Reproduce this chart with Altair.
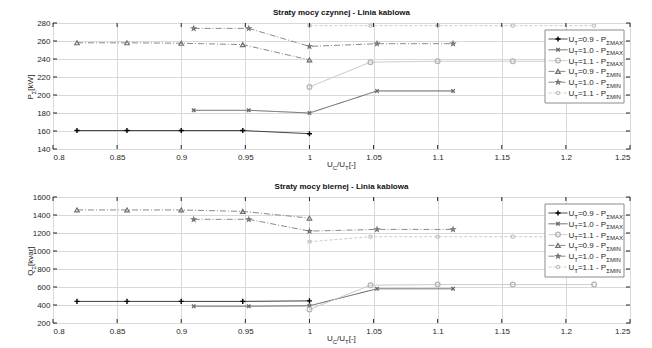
import math
import altair as alt
import pandas as pd

# ---------------- data ----------------
SERIES = ["0.9 MAX", "1.0 MAX", "1.1 MAX", "0.9 MIN", "1.0 MIN", "1.1 MIN"]
LEG_UT = ["0.9", "1.0", "1.1", "0.9", "1.0", "1.1"]
LEG_SUB = ["ΣMAX", "ΣMAX", "ΣMAX", "ΣMIN", "ΣMIN", "ΣMIN"]

X_09 = [0.8187, 0.8577, 0.9, 0.948, 1.0]
X_10 = [0.9097, 0.9527, 1.0, 1.0527, 1.112]
X_11 = [1.0, 1.0476, 1.1, 1.1586, 1.222]

P_MAX_09 = [160.5, 160.5, 160.5, 160.5, 157]
P_MAX_10 = [183, 183, 180, 204.5, 204.5]
P_MAX_11 = [209, 236.5, 237.5, 237.5, 237.5]
P_MIN_09 = [258, 258, 257.5, 256, 239]
P_MIN_10 = [274, 274, 254, 257, 257]
P_MIN_11 = [277, 277, 277, 277, 277]

Q_MAX_09 = [440, 440, 440, 440, 446]
Q_MAX_10 = [386, 386, 391, 580, 580]
Q_MAX_11 = [350, 620, 627, 627, 627]
Q_MIN_09 = [1456, 1456, 1456, 1440, 1366]
Q_MIN_10 = [1352, 1352, 1221, 1240, 1240]
Q_MIN_11 = [1103, 1159, 1159, 1159, 1159]

X_TICKS = [0.8, 0.85, 0.9, 0.95, 1.0, 1.05, 1.1, 1.15, 1.2, 1.25]
P_TICKS = [140, 160, 180, 200, 220, 240, 260, 280]
Q_TICKS = [200, 400, 600, 800, 1000, 1200, 1400, 1600]

# ---------------- styles ----------------
W, H = 577, 126
FONT = "Liberation Sans"
TXT = "#262626"
LINE_COLORS = ["#3a3a3a", "#5c5c5c", "#c4c4c4", "#8a8a8a", "#8a8a8a", "#cccccc"]
MARK_COLORS = ["#000000", "#6a6a6a", "#b4b4b4", "#707070", "#707070", "#bdbdbd"]
DASHES = [[1, 0], [1, 0], [1, 0], [6, 2, 1, 2], [6, 2, 1, 2], [3, 2]]
SIZES = [26, 18, 22, 24, 30, 24]
SWIDTH = [1.4, 1, 1, 1, 1, 1]

PLUS = "M-1,0L1,0M0,-1L0,1"
ASTER = "M-1,0L1,0M0,-1L0,1M-0.7,-0.7L0.7,0.7M-0.7,0.7L0.7,-0.7"
XS = "M-0.7,-0.7L0.7,0.7M-0.7,0.7L0.7,-0.7"


def star(n, r_in):
    pts = []
    for k in range(2 * n):
        r = 1 if k % 2 == 0 else r_in
        a = math.radians(-90 + k * 180 / n)
        pts.append(f"{r*math.cos(a):.3f},{r*math.sin(a):.3f}")
    return "M" + "L".join(pts) + "Z"


STAR5 = star(5, 0.4)
STAR6 = star(6, 0.577)
SHAPES_TOP = [PLUS, XS, "circle", "triangle-up", STAR5, STAR6]
SHAPES_BOT = [ASTER, XS, "circle", "triangle-up", STAR5, STAR6]

CW = {'U': .722, 'T': .611, 'C': .722, 'P': .667, 'Q': .778, '=': .584, '.': .278,
      ' ': .278, '-': .333, '/': .278, '[': .278, ']': .278, 'k': .5, 'W': .944,
      'v': .5, 'a': .556, 'r': .333, 'Σ': .6, 'M': .833, 'A': .667, 'X': .667,
      'I': .278, 'N': .722}
FS_MAIN, FS_SUB = 8, 6


def tw(s, fs):
    return sum(CW.get(c, .556) for c in s) * fs


def pieces_h(parts, x0, y0):
    rows = []
    x = x0
    for t, sub in parts:
        fs = FS_SUB if sub else FS_MAIN
        rows.append({"t": t, "px": x, "py": y0 + (2.5 if sub else 0), "sub": sub})
        x += tw(t, fs)
    return rows


def total_w(parts):
    return sum(tw(t, FS_SUB if s else FS_MAIN) for t, s in parts)


def text_layers(rows, angle=0):
    df = pd.DataFrame(rows)
    out = []
    for sub in (False, True):
        d = df[df["sub"] == sub]
        if len(d) == 0:
            continue
        out.append(alt.Chart(d).mark_text(
            align="left", baseline="alphabetic", angle=angle, font=FONT,
            fontSize=FS_SUB if sub else FS_MAIN, color=TXT).encode(
            x=alt.X("px:Q", scale=None), y=alt.Y("py:Q", scale=None), text="t:N"))
    return out


def panel(title, ylists, ydom, yticks, shapes, ytitle_parts):
    xs = [X_09, X_10, X_11, X_09, X_10, X_11]
    rows = []
    for s, xl, yl in zip(SERIES, xs, ylists):
        for a, b in zip(xl, yl):
            rows.append({"series": s, "x": a, "y": b})
    df = pd.DataFrame(rows)

    xsc = alt.Scale(domain=[0.8, 1.25], nice=False, zero=False)
    ysc = alt.Scale(domain=ydom, nice=False, zero=False)
    col = alt.Scale(domain=SERIES, range=LINE_COLORS)
    mcol = alt.Scale(domain=SERIES, range=MARK_COLORS)
    dsh = alt.Scale(domain=SERIES, range=DASHES)
    shp = alt.Scale(domain=SERIES, range=shapes)
    siz = alt.Scale(domain=SERIES, range=SIZES)
    swd = alt.Scale(domain=SERIES, range=SWIDTH)

    xax = alt.Axis(values=X_TICKS, grid=True, gridColor="#d9d9d9", ticks=False, tickSize=0,
                   domain=False, labelPadding=4, title=None, format="~g",
                   labelOverlap=False)
    yax = alt.Axis(values=yticks, grid=True, gridColor="#d9d9d9", ticks=False, tickSize=0,
                   domain=False, labelPadding=3, title=None, format="d",
                   labelOverlap=False)

    lines = alt.Chart(df).mark_line(strokeWidth=1).encode(
        x=alt.X("x:Q", scale=xsc, axis=xax),
        y=alt.Y("y:Q", scale=ysc, axis=yax),
        color=alt.Color("series:N", scale=col, legend=None),
        strokeDash=alt.StrokeDash("series:N", scale=dsh, legend=None),
        detail="series:N")
    pts = alt.Chart(df).mark_point(filled=False, opacity=1).encode(
        x=alt.X("x:Q", axis=xax), y=alt.Y("y:Q", axis=yax),
        shape=alt.Shape("series:N", scale=shp, legend=None),
        stroke=alt.Stroke("series:N", scale=mcol, legend=None),
        size=alt.Size("series:N", scale=siz, legend=None),
        strokeWidth=alt.StrokeWidth("series:N", scale=swd, legend=None))

    # inward ticks (box style)
    xt = pd.DataFrame({"v": X_TICKS})
    yt = pd.DataFrame({"v": yticks})
    tk = []
    tk.append(alt.Chart(xt).mark_rule(color=TXT).encode(
        x=alt.X("v:Q", axis=xax), y=alt.value(H), y2=alt.value(H - 4)))
    tk.append(alt.Chart(xt).mark_rule(color=TXT).encode(
        x=alt.X("v:Q", axis=xax), y=alt.value(0), y2=alt.value(4)))
    tk.append(alt.Chart(yt).mark_rule(color=TXT).encode(
        y=alt.Y("v:Q", axis=yax), x=alt.value(0), x2=alt.value(4)))
    tk.append(alt.Chart(yt).mark_rule(color=TXT).encode(
        y=alt.Y("v:Q", axis=yax), x=alt.value(W), x2=alt.value(W - 4)))

    # legend
    lx0, lx1, ly0, ly1 = 492, 571, 7, 80
    box = alt.Chart(pd.DataFrame({"a": [0]})).mark_rect(
        fill="white", stroke="#8c8c8c", strokeWidth=1).encode(
        x=alt.value(lx0), x2=alt.value(lx1), y=alt.value(ly0), y2=alt.value(ly1))
    lrows, trows = [], []
    for i, s in enumerate(SERIES):
        yy = 16 + i * 10.8
        lrows.append({"series": s, "a": 495.5, "b": 514.5, "c": 505, "yy": yy})
        parts = [("U", False), ("T", True), ("=" + LEG_UT[i] + " - P", False), (LEG_SUB[i], True)]
        trows += pieces_h(parts, 515.5, yy + 3)
    ldf = pd.DataFrame(lrows)
    lline = alt.Chart(ldf).mark_rule(strokeWidth=1).encode(
        x=alt.X("a:Q", scale=None), x2="b:Q", y=alt.Y("yy:Q", scale=None),
        color=alt.Color("series:N", scale=col, legend=None),
        strokeDash=alt.StrokeDash("series:N", scale=dsh, legend=None))
    lpts = alt.Chart(ldf).mark_point(filled=False, opacity=1).encode(
        x=alt.X("c:Q", scale=None), y=alt.Y("yy:Q", scale=None),
        shape=alt.Shape("series:N", scale=shp, legend=None),
        stroke=alt.Stroke("series:N", scale=mcol, legend=None),
        size=alt.Size("series:N", scale=siz, legend=None),
        strokeWidth=alt.StrokeWidth("series:N", scale=swd, legend=None))

    # axis titles as text pieces (for subscripts)
    xparts = [("U", False), ("C", True), ("/U", False), ("T", True), (" [-]", False)]
    xrows = pieces_h(xparts, W / 2 - total_w(xparts) / 2 + 1, H + 18)
    yrows = []
    ytot = total_w(ytitle_parts)
    y = H / 2 + ytot / 2
    for t, sub in ytitle_parts:
        fs = FS_SUB if sub else FS_MAIN
        yrows.append({"t": t, "px": -20 + (2.5 if sub else 0), "py": y, "sub": sub})
        y -= tw(t, fs)

    layers = [lines, pts] + tk + [box, lline, lpts] + text_layers(trows) + \
        text_layers(xrows) + text_layers(yrows, angle=270)
    return alt.layer(*layers).properties(
        width=W, height=H,
        title=alt.TitleParams(title, fontSize=8, fontWeight="bold", font=FONT,
                              color="#111111", offset=2, anchor="middle"))


top = panel("Straty mocy czynnej - Linia kablowa",
            [P_MAX_09, P_MAX_10, P_MAX_11, P_MIN_09, P_MIN_10, P_MIN_11],
            [140, 280], P_TICKS, SHAPES_TOP,
            [("P", False), ("Σ", True), (" [kW]", False)])
bot = panel("Straty mocy biernej - Linia kablowa",
            [Q_MAX_09, Q_MAX_10, Q_MAX_11, Q_MIN_09, Q_MIN_10, Q_MIN_11],
            [200, 1600], Q_TICKS, SHAPES_BOT,
            [("Q", False), ("Σ", True), (" [kvar]", False)])

chart = alt.vconcat(top, bot, spacing=11).configure(
    padding={"left": 18, "top": 0, "right": 5, "bottom": 2},
    background="white").configure_view(
    stroke="#262626", strokeWidth=1).configure_axis(
    labelFont=FONT, labelFontSize=8, labelColor=TXT)

chart.save("out.html", embed_options={"renderer": "svg", "actions": False})
